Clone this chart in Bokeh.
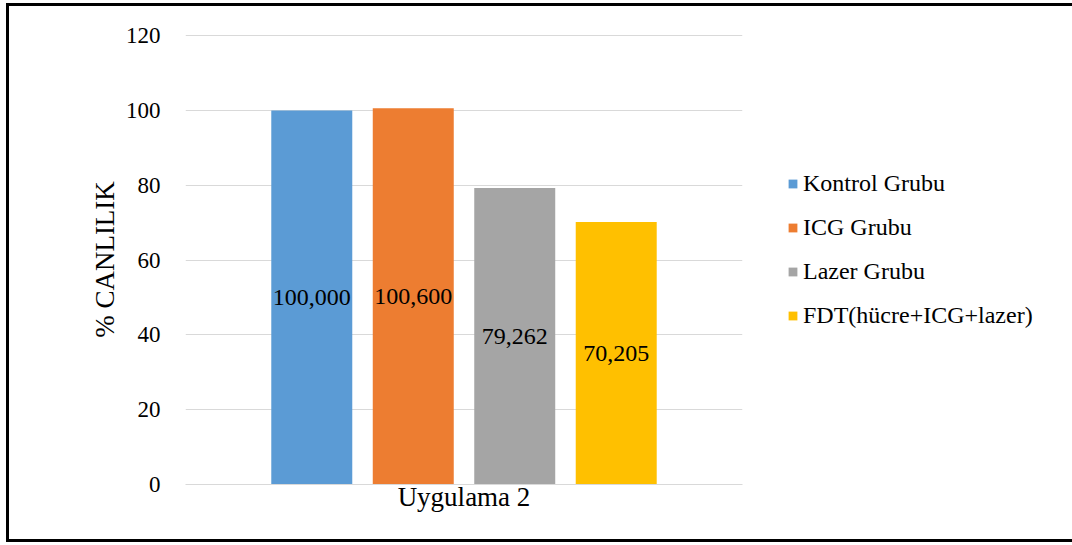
from bokeh.plotting import figure
from bokeh.models import ColumnDataSource, FactorRange, Range1d, Legend, LegendItem, LabelSet, FixedTicker, InlineStyleSheet
from bokeh.transform import dodge
from bokeh.embed import file_html
from bokeh.resources import INLINE

# Data
category = ["Uygulama 2"]
groups = ["Kontrol Grubu", "ICG Grubu", "Lazer Grubu", "FDT(hücre+ICG+lazer)"]
values = [100.000, 100.600, 79.262, 70.205]
labels = ["100,000", "100,600", "79,262", "70,205"]
colors = ["#5B9BD5", "#ED7D31", "#A5A5A5", "#FFC000"]
y_ticks = [0, 20, 40, 60, 80, 100, 120]

FONT = "Liberation Serif"

p = figure(
    frame_width=557, frame_height=450,
    x_range=FactorRange(*category, range_padding=0),
    y_range=Range1d(0, 120.3),
    output_backend="svg", toolbar_location=None,
    min_border_left=185, min_border_right=330,
    min_border_top=34, min_border_bottom=61,
)
p.outline_line_color = None
p.background_fill_color = "white"
p.border_fill_color = "white"

# Black frame around the whole chart
p.stylesheets = [InlineStyleSheet(css="""
:host { position: relative; }
:host::after {
  content: ""; position: absolute; z-index: 1000; pointer-events: none;
  left: 6px; top: 3px; right: 7px; bottom: 3px;
  border: 3px solid #000;
}
""")]

step = 0.1822
offsets = [-1.5 * step, -0.5 * step, 0.5 * step, 1.5 * step]
items = []
for g, v, lab, c, off in zip(groups, values, labels, colors, offsets):
    src = ColumnDataSource(dict(x=category, top=[v], mid=[v / 2], lab=[lab]))
    r = p.vbar(x=dodge("x", off, range=p.x_range), top="top", width=0.1454,
               source=src, fill_color=c, line_color=None)
    items.append(LegendItem(label=g, renderers=[r]))
    p.add_layout(LabelSet(x=dodge("x", off, range=p.x_range), y="mid", text="lab",
                          source=src, text_align="center", text_baseline="middle",
                          text_font=FONT, text_font_size="24px", text_color="#000000"))

# Axes
p.yaxis.ticker = FixedTicker(ticks=y_ticks)
p.yaxis.axis_line_color = None
p.yaxis.major_tick_line_color = None
p.yaxis.minor_tick_line_color = None
p.yaxis.major_label_text_font = FONT
p.yaxis.major_label_text_font_size = "23px"
p.yaxis.major_label_text_color = "#000000"
p.yaxis.major_label_standoff = 19
p.yaxis.axis_label = "% CANLILIK"
p.yaxis.axis_label_text_font = FONT
p.yaxis.axis_label_text_font_size = "27px"
p.yaxis.axis_label_text_font_style = "normal"
p.yaxis.axis_label_text_color = "#000000"
p.yaxis.axis_label_standoff = 3

p.xaxis.axis_line_color = "#D9D9D9"
p.xaxis.major_tick_line_color = None
p.xaxis.minor_tick_line_color = None
p.xaxis.major_label_text_font = FONT
p.xaxis.major_label_text_font_size = "27px"
p.xaxis.major_label_text_color = "#000000"
p.xaxis.major_label_standoff = -9

p.xgrid.grid_line_color = None
p.ygrid.grid_line_color = "#D9D9D9"
p.ygrid.grid_line_width = 1

legend = Legend(items=items, location=(45, 155), orientation="vertical",
                glyph_width=11, glyph_height=11, label_standoff=5,
                label_height=20, spacing=17, padding=0, margin=0,
                label_text_font=FONT, label_text_font_size="24px",
                label_text_color="#000000",
                border_line_color=None, background_fill_alpha=0)
p.add_layout(legend, "right")

open("out.html", "w").write(file_html(p, INLINE))
